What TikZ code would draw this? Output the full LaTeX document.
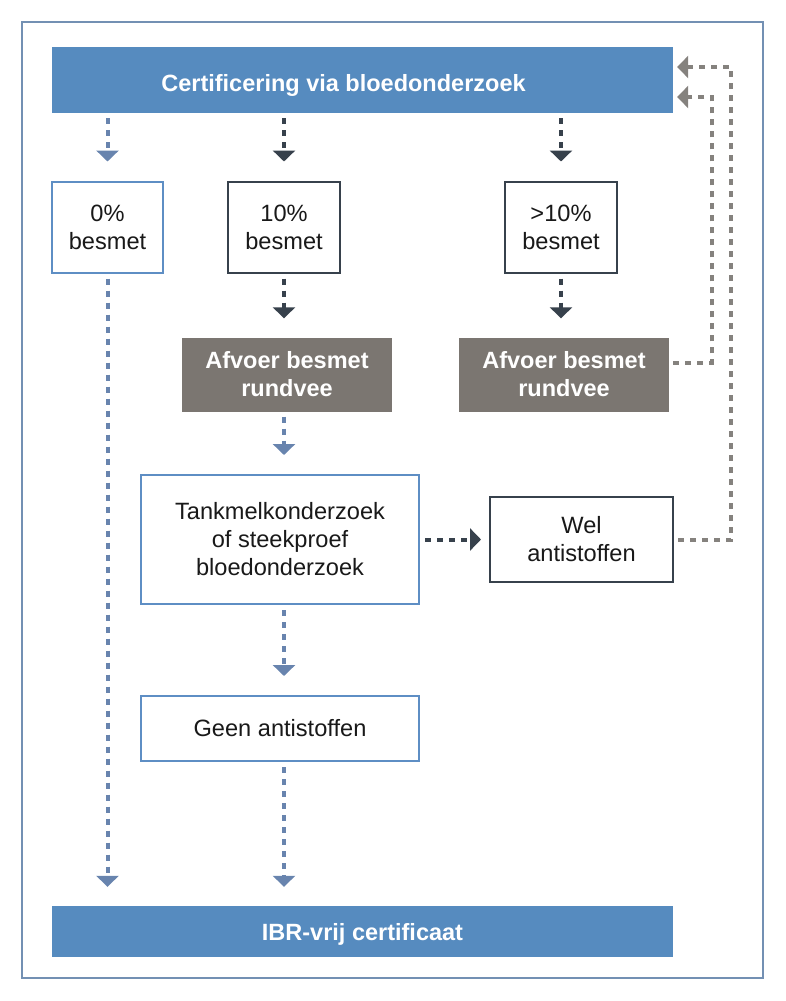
\documentclass[tikz,border=0pt]{standalone}
\usepackage{fontspec}
\setmainfont{Liberation Sans}
\usetikzlibrary{arrows.meta}

\definecolor{barblue}{HTML}{568BBF}
\definecolor{lineblue}{HTML}{5E8EC4}
\definecolor{arrowblue}{HTML}{6884AE}
\definecolor{darkline}{HTML}{37414C}
\definecolor{boxgray}{HTML}{7B7671}
\definecolor{arrowgray}{HTML}{85827E}
\definecolor{framecol}{HTML}{7390B3}

\tikzset{
  bar/.style={fill=barblue,text=white,font=\bfseries\fontsize{23.5}{28}\selectfont,
    minimum width=621pt,inner sep=0pt,text depth=0pt},
  bluebox/.style={draw=lineblue,line width=2pt,fill=white,align=center,text=black!90,
    font=\fontsize{23.6}{28}\selectfont,inner sep=0pt},
  darkbox/.style={draw=darkline,line width=2pt,fill=white,align=center,text=black!90,
    font=\fontsize{23.6}{28}\selectfont,inner sep=0pt},
  graybox/.style={fill=boxgray,text=white,align=center,
    font=\bfseries\fontsize{23.5}{28}\selectfont,minimum width=210pt,minimum height=74pt,inner sep=0pt},
  flow/.style={line width=4pt,dash pattern=on 6pt off 6pt,
    -{Triangle[width=22pt,length=11pt]},shorten <=5pt,shorten >=19pt},
  blueflow/.style={flow,draw=arrowblue,arrowblue},
  darkflow/.style={flow,draw=darkline,darkline},
  backflow/.style={flow,draw=arrowgray,arrowgray,shorten <=4pt,shorten >=4pt}
}

\begin{document}
\begin{tikzpicture}[x=1pt,y=-1pt]
  \useasboundingbox (0,0) rectangle (786,1001);

  % Frame
  \draw[framecol,line width=2pt] (22,22) rectangle (763,978);

  % Bars
  \node[bar,minimum height=66pt,text height=22pt] (top) at (362.5,80) {\hspace*{-38pt}Certificering via bloedonderzoek};
  \node[bar,minimum height=51pt,text height=17pt] (ibr) at (362.5,931.5) {IBR-vrij certificaat};

  % Infection levels
  \node[bluebox,minimum width=111pt,minimum height=91pt] (zero) at (107.5,227) {0\%\\besmet};
  \node[darkbox,minimum width=112pt,minimum height=91pt] (ten) at (284,227) {10\%\\besmet};
  \node[darkbox,minimum width=112pt,minimum height=91pt] (more) at (561,227) {>10\%\\besmet};

  % Removal
  \node[graybox] (afvL) at (287,374.5) {Afvoer besmet\\rundvee};
  \node[graybox] (afvR) at (564,374.5) {Afvoer besmet\\rundvee};

  % Follow-up tests
  \node[bluebox,minimum width=278pt,minimum height=129pt] (tank) at (280,539.5) {Tankmelkonderzoek\\of steekproef\\bloedonderzoek};
  \node[darkbox,minimum width=183pt,minimum height=85pt] (wel) at (581.5,539.5) {Wel\\antistoffen};
  \node[bluebox,minimum width=278pt,minimum height=65pt] (geen) at (280,728.5) {Geen antistoffen};

  % Return points
  \coordinate (ret1) at (712,97);
  \coordinate (ret2) at (731,67);

  % Arrows down
  \draw[blueflow] (top.south -| zero) -- (zero.north);
  \draw[darkflow] (top.south -| ten) -- (ten.north);
  \draw[darkflow] (top.south -| more) -- (more.north);
  \draw[darkflow] (ten.south) -- (ten.south |- afvL.north);
  \draw[darkflow] (more.south) -- (more.south |- afvR.north);
  \draw[blueflow] (ten.south |- afvL.south) -- (ten.south |- tank.north);
  \draw[blueflow] (ten.south |- tank.south) -- (ten.south |- geen.north);
  \draw[blueflow] (ten.south |- geen.south) -- (ten.south |- ibr.north);
  \draw[blueflow] (zero.south) -- (zero.south |- ibr.north);

  % Arrow to positive result
  \draw[darkflow,shorten >=8pt] (tank.east) -- (wel.west);

  % Back to the start
  \draw[backflow] ([yshift=12pt]afvR.east) -| (ret1) -- (ret1 -| top.east);
  \draw[backflow] (wel.east) -| (ret2) -- (ret2 -| top.east);
\end{tikzpicture}
\end{document}
